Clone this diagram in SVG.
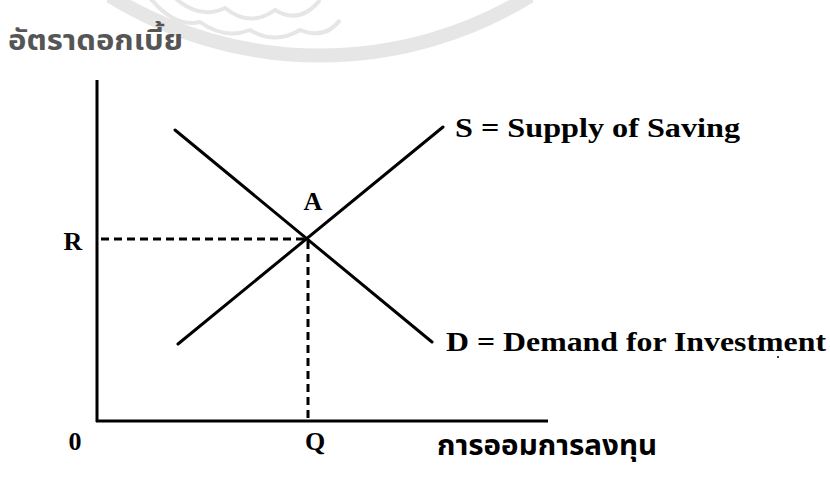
<svg xmlns="http://www.w3.org/2000/svg" width="830" height="478" viewBox="0 0 830 478">
  <style>
    .lbl { font-family: "Liberation Serif", "Times New Roman", serif; font-weight: bold; fill: #000; }
    .thai { font-family: "Noto Sans Thai", "Noto Sans", "DejaVu Sans", sans-serif; font-weight: bold; }
    .curve { stroke: #000; stroke-width: 3; fill: none; stroke-linecap: round; }
    .axis { stroke: #000; stroke-width: 3; fill: none; }
    .dash { stroke: #000; stroke-width: 3; fill: none; stroke-dasharray: 8 5; }
    .wm { stroke: #e6e6e6; fill: none; }
  </style>
  <rect x="0" y="0" width="830" height="478" fill="#fff"/>

  <g id="watermark">
    <path class="wm" stroke-width="14" d="M 110 -4 A 400 400 0 0 0 530 -4"/>
    <path class="wm" stroke-width="4" d="M 150 -2 Q 175 28 200 22 Q 225 40 250 30 Q 275 45 300 30 Q 325 40 340 20"/>
    <path class="wm" stroke-width="4" d="M 175 -2 Q 200 20 225 8 Q 250 28 275 10 Q 300 25 320 0"/>
  </g>

  <g id="axes">
    <line class="axis" x1="97" y1="80" x2="97" y2="422"/>
    <line class="axis" x1="96" y1="421" x2="548" y2="421"/>
  </g>

  <g id="connectors">
    <line class="dash" x1="101" y1="239" x2="306" y2="239"/>
    <line class="dash" x1="308" y1="241" x2="308" y2="420"/>
  </g>

  <g id="supply">
    <line class="curve" x1="178" y1="344" x2="443" y2="127"/>
    <text class="lbl" x="455" y="137" font-size="28" textLength="285" lengthAdjust="spacingAndGlyphs">S = Supply of Saving</text>
  </g>

  <g id="demand">
    <line class="curve" x1="175" y1="130" x2="432" y2="342"/>
    <text class="lbl" x="446" y="351" font-size="28" textLength="380" lengthAdjust="spacingAndGlyphs">D = Demand for Investment</text>
  </g>

  <g id="point-A">
    <text class="lbl" x="313" y="210" font-size="26" text-anchor="middle">A</text>
  </g>

  <g id="label-R">
    <text class="lbl" x="73" y="250" font-size="26" text-anchor="middle">R</text>
  </g>

  <g id="label-0">
    <text class="lbl" x="75" y="450" font-size="26" text-anchor="middle">0</text>
  </g>

  <g id="label-Q">
    <text class="lbl" x="315" y="450" font-size="26" text-anchor="middle">Q</text>
  </g>

  <g id="y-title">
    <text class="thai" x="8" y="50" font-size="28" fill="#555" textLength="175" lengthAdjust="spacingAndGlyphs">อัตราดอกเบี้ย</text>
  </g>

  <g id="x-title">
    <text class="thai" x="437" y="455" font-size="28" fill="#000" textLength="220" lengthAdjust="spacingAndGlyphs">การออมการลงทุน</text>
  </g>

  <circle cx="778" cy="357" r="1" fill="#000"/>
</svg>
